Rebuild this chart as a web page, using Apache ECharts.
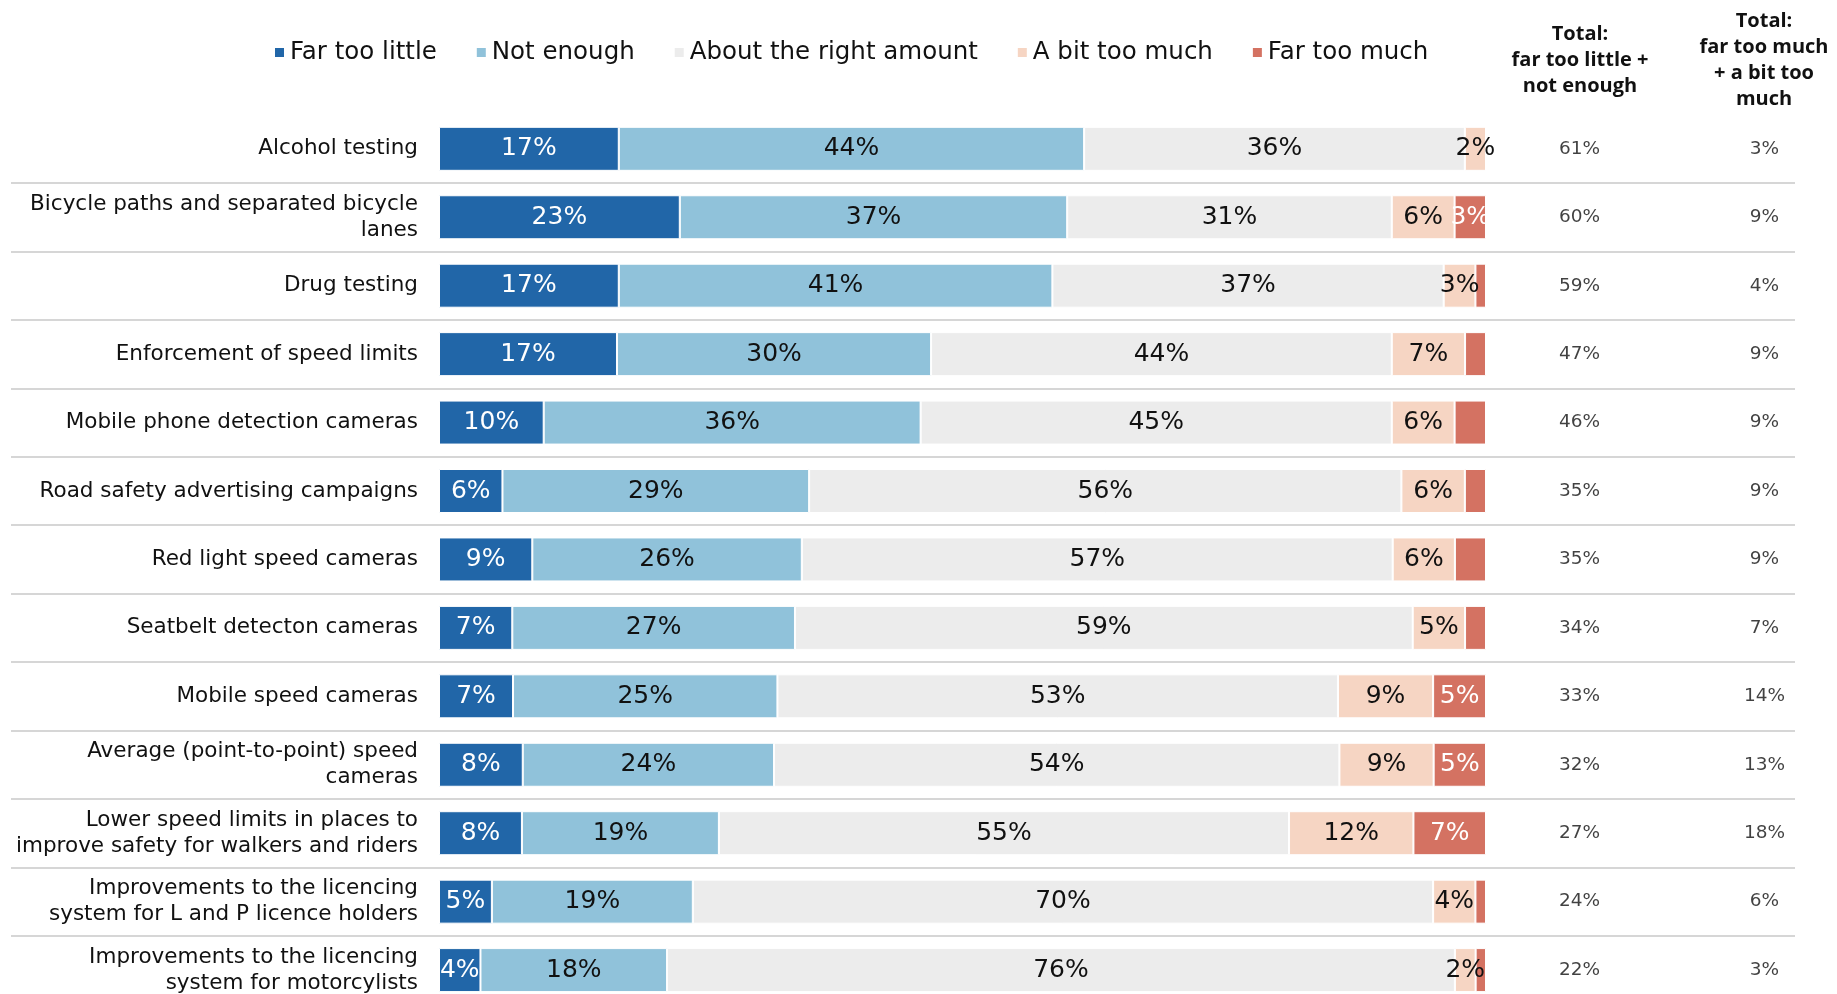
<!DOCTYPE html>
<html>
<head>
<meta charset="utf-8">
<script src="https://cdn.jsdelivr.net/npm/echarts@6/dist/echarts.min.js"></script>
<style>
  html, body { margin: 0; padding: 0; background: #fff; }
  #chart { width: 1837px; height: 994px; }
</style>
</head>
<body>
<div id="chart"></div>
<script>
// categories, top to bottom
const categories = [
  'Alcohol testing',
  'Bicycle paths and separated bicycle\nlanes',
  'Drug testing',
  'Enforcement of speed limits',
  'Mobile phone detection cameras',
  'Road safety advertising campaigns',
  'Red light speed cameras',
  'Seatbelt detecton cameras',
  'Mobile speed cameras',
  'Average (point-to-point) speed\ncameras',
  'Lower speed limits in places to\nimprove safety for walkers and riders',
  'Improvements to the licencing\nsystem for L and P licence holders',
  'Improvements to the licencing\nsystem for motorcylists'
]
const seriesNames = ['Far too little', 'Not enough', 'About the right amount', 'A bit too much', 'Far too much']
const farTooLittle = [17, 23, 17, 17, 10, 6, 9, 7, 7, 8, 8, 5, 4]
const notEnough = [44, 37, 41, 30, 36, 29, 26, 27, 25, 24, 19, 19, 18]
const aboutRight = [36, 31, 37, 44, 45, 56, 57, 59, 53, 54, 55, 70, 76]
const bitTooMuch = [2, 6, 3, 7, 6, 6, 6, 5, 9, 9, 12, 4, 2]
const farTooMuch = [0, 3, 1, 2, 3, 2, 3, 2, 5, 5, 7, 1, 1]
// which "far too much" segments carry a printed label
const farTooMuchLabelled = [0, 1, 0, 0, 0, 0, 0, 0, 1, 1, 1, 0, 0]
const totalTooLittle = [61, 60, 59, 47, 46, 35, 35, 34, 33, 32, 27, 24, 22]
const totalTooMuch = [3, 9, 4, 9, 9, 9, 9, 7, 14, 13, 18, 6, 3]

const FONT = 'DejaVu Sans'
const HEAD_FONT = 'Open Sans'
const colors = ['#2166a8', '#90c2da', '#ececec', '#f6d5c3', '#d47262']
const labelColors = ['#fff', '#111', '#111', '#111', '#fff']
const allSeries = [farTooLittle, notEnough, aboutRight, bitTooMuch, farTooMuch]

// every row is drawn as a share of its own total so bars end together
const rowSums = categories.map((c, i) => allSeries.reduce((s, arr) => s + arr[i], 0))

const gridTop = 114.6
const gridHeight = 889.7

const chart = echarts.init(document.getElementById('chart'))

const barSeries = allSeries.map((arr, k) => ({
  name: seriesNames[k],
  type: 'bar',
  stack: 'total',
  xAxisIndex: 0,
  yAxisIndex: 0,
  barWidth: 44,
  itemStyle: { color: colors[k], borderColor: '#fff', borderWidth: 1 },
  label: {
    show: true,
    position: 'inside',
    color: labelColors[k],
    fontFamily: FONT,
    fontSize: 25,
    formatter: (p) => p.data.raw + '%'
  },
  data: arr.map((v, i) => {
    const item = { value: v / rowSums[i] * 100, raw: v }
    if (k === 4 && !farTooMuchLabelled[i]) item.label = { show: false }
    return item
  })
}))

const totalLabel = {
  show: true,
  position: 'inside',
  color: '#111',
  fontFamily: FONT,
  fontSize: 18.5,
  formatter: (p) => p.value[2] + '%'
}

chart.setOption({
  animation: false,
  color: colors,
  legend: {
    data: seriesNames,
    left: 268,
    top: 35,
    icon: 'rect',
    itemWidth: 11,
    itemHeight: 11,
    itemGap: 38,
    textStyle: { fontFamily: FONT, fontSize: 24.5, color: '#111' }
  },
  grid: [
    { left: 439, width: 1047, top: gridTop, height: gridHeight, outerBoundsMode: 'none' },
    { left: 11, width: 1784, top: gridTop, height: gridHeight, outerBoundsMode: 'none' },
    { left: 1487, width: 370, top: gridTop, height: gridHeight, outerBoundsMode: 'none' }
  ],
  xAxis: [
    { type: 'value', gridIndex: 0, min: 0, max: 100, show: false },
    { type: 'value', gridIndex: 1, min: 0, max: 1, show: false },
    { type: 'category', gridIndex: 2, data: ['low', 'high'], show: false }
  ],
  yAxis: [
    {
      type: 'category',
      gridIndex: 0,
      inverse: true,
      data: categories,
      axisLine: { show: false },
      axisTick: { show: false },
      splitLine: { show: false },
      axisLabel: {
        margin: 21,
        fontFamily: FONT,
        fontSize: 21.5,
        lineHeight: 26,
        color: '#111',
        align: 'right'
      }
    },
    {
      type: 'category',
      gridIndex: 1,
      inverse: true,
      data: categories,
      axisLine: { show: false },
      axisTick: { show: false },
      axisLabel: { show: false },
      splitLine: {
        show: true,
        showMinLine: false,
        showMaxLine: false,
        lineStyle: { color: '#c8c8c8', width: 1.5 }
      }
    },
    {
      type: 'category',
      gridIndex: 2,
      inverse: true,
      data: categories,
      show: false
    }
  ],
  series: [
    ...barSeries,
    {
      name: 'totalTooLittle',
      type: 'scatter',
      xAxisIndex: 2,
      yAxisIndex: 2,
      symbolSize: 1,
      itemStyle: { color: 'rgba(0,0,0,0)' },
      label: totalLabel,
      data: totalTooLittle.map((v, i) => [0, i, v])
    },
    {
      name: 'totalTooMuch',
      type: 'scatter',
      xAxisIndex: 2,
      yAxisIndex: 2,
      symbolSize: 1,
      itemStyle: { color: 'rgba(0,0,0,0)' },
      label: totalLabel,
      data: totalTooMuch.map((v, i) => [1, i, v])
    }
  ],
  graphic: [
    {
      type: 'text',
      x: 1580,
      y: 21,
      style: {
        text: 'Total:\nfar too little +\nnot enough',
        align: 'center',
        verticalAlign: 'top',
        fontFamily: HEAD_FONT,
        fontWeight: 'bold',
        fontSize: 20,
        lineHeight: 26,
        fill: '#111'
      }
    },
    {
      type: 'text',
      x: 1764,
      y: 8,
      style: {
        text: 'Total:\nfar too much\n+ a bit too\nmuch',
        align: 'center',
        verticalAlign: 'top',
        fontFamily: HEAD_FONT,
        fontWeight: 'bold',
        fontSize: 20,
        lineHeight: 26,
        fill: '#111'
      }
    }
  ]
})
</script>
</body>
</html>
